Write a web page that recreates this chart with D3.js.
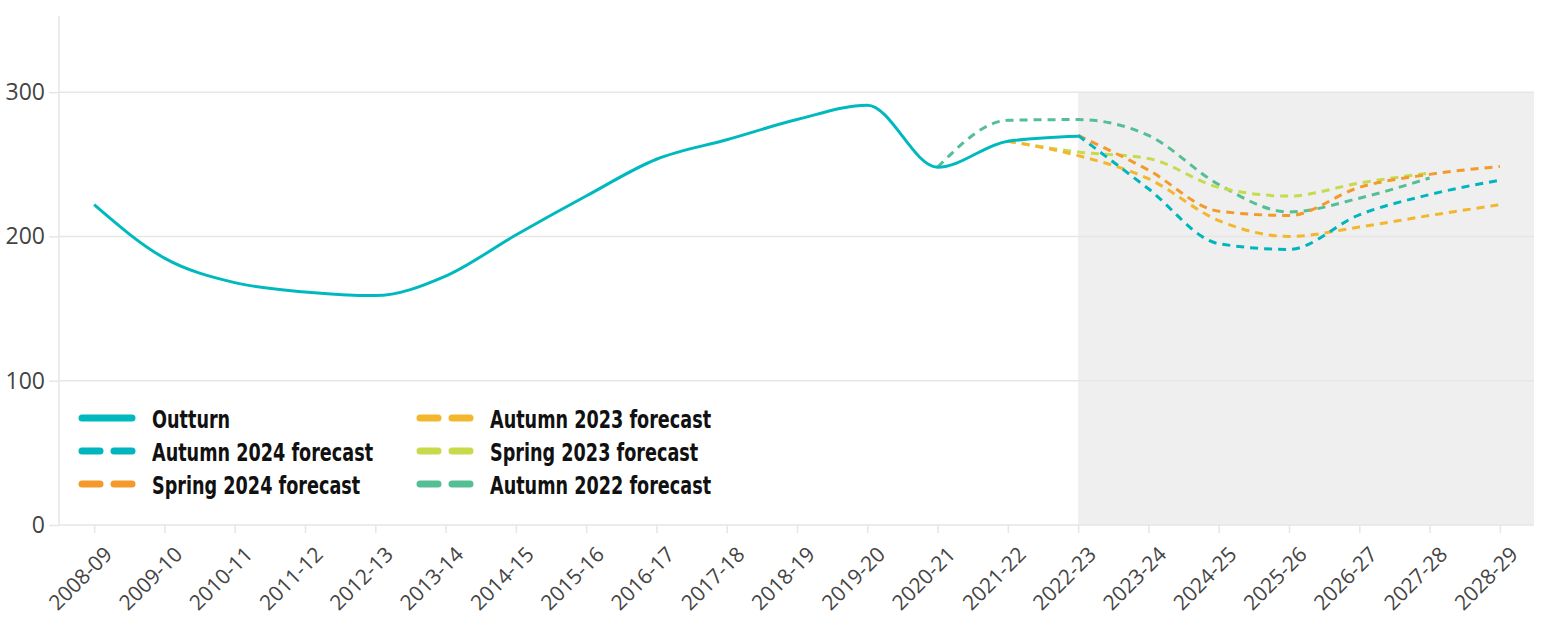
<!DOCTYPE html>
<html>
<head>
<meta charset="utf-8">
<script src="https://cdn.jsdelivr.net/npm/d3@7"></script>
<style>
body { margin: 0; background: #fff; }
.tick text { font-family: "Open Sans", "DejaVu Sans", sans-serif; fill: #444; }
.legend text { font-family: "DejaVu Sans", sans-serif; font-weight: bold; font-size: 24.5px; fill: #111; }
</style>
</head>
<body>
<div id="chart"></div>
<script>
var years = ["2008-09","2009-10","2010-11","2011-12","2012-13","2013-14","2014-15","2015-16","2016-17","2017-18","2018-19","2019-20","2020-21","2021-22","2022-23","2023-24","2024-25","2025-26","2026-27","2027-28","2028-29"];
var yTicks = [0, 100, 200, 300];

var outturnYears = years.slice(0, 15);
var outturn = [222, 185, 168, 161.5, 159, 172.5, 201, 228, 253.5, 267, 281, 291, 248, 266, 269.5];

var aut22Years = years.slice(12, 20);
var aut22 = [248, 280.5, 281, 270, 236, 217, 226.5, 240.5];

var spr23Years = years.slice(13, 20);
var spr23 = [266, 258.5, 254, 234, 228, 237, 244];

var aut23Years = years.slice(13, 21);
var aut23 = [266, 256, 240, 211, 200, 206.5, 214.5, 222];

var spr24Years = years.slice(14, 21);
var spr24 = [270, 246, 217.5, 214.5, 234, 243, 248.5];

var aut24Years = years.slice(14, 21);
var aut24 = [270, 233, 195, 191, 215, 229, 239];

var seriesNames = ["Outturn", "Autumn 2024 forecast", "Spring 2024 forecast", "Autumn 2023 forecast", "Spring 2023 forecast", "Autumn 2022 forecast"];
var seriesColors = ["#00b9bf", "#00b5be", "#f39a2b", "#f2b72c", "#c7da4c", "#54bf94"];

var W = 1544, H = 622;
var mLeft = 59, mRight = 1534, mTop = 20, mBottom = 525;

var svg = d3.select("#chart").append("svg").attr("width", W).attr("height", H);

var x = d3.scalePoint().domain(years).range([mLeft, mRight + 1]).padding(0.5);
var y = d3.scaleLinear().domain([0, 350]).range([mBottom, mTop]);

// forecast shading
svg.append("rect")
  .attr("x", x("2022-23")).attr("y", y(300))
  .attr("width", mRight - x("2022-23")).attr("height", y(0) - y(300))
  .style("fill", "#efefef");

// gridlines
svg.append("g").selectAll("line").data(yTicks.slice(1)).join("line")
  .attr("x1", mLeft).attr("x2", mRight)
  .attr("y1", function(d) { return y(d); }).attr("y2", function(d) { return y(d); })
  .style("stroke", "#e6e6e6").style("stroke-width", 1.5);

// y axis
var yAxis = svg.append("g").attr("transform", "translate(" + mLeft + ",0)")
  .call(d3.axisLeft(y).tickValues(yTicks).tickSize(10).tickPadding(4));
yAxis.select(".domain").attr("d", "M0," + (mTop - 4) + "V" + mBottom).style("stroke", "#e6e6e6").style("stroke-width", 1.5);
yAxis.selectAll(".tick line").style("stroke", "#e6e6e6").style("stroke-width", 1.5);
yAxis.selectAll(".tick text").style("font-size", "23px");

// x axis
var xAxis = svg.append("g").attr("transform", "translate(0," + mBottom + ")")
  .call(d3.axisBottom(x).tickSize(8));
xAxis.select(".domain").attr("d", "M" + mLeft + ",0H" + mRight).style("stroke", "#e6e6e6").style("stroke-width", 1.5);
xAxis.selectAll(".tick line").style("stroke", "#e6e6e6").style("stroke-width", 1.5);
xAxis.selectAll(".tick text")
  .style("font-size", "21px")
  .attr("text-anchor", "end")
  .attr("dx", 0).attr("dy", 0)
  .attr("transform", "translate(11,23) rotate(-45)");

var line = d3.line()
  .x(function(d) { return x(d[0]); })
  .y(function(d) { return y(d[1]); })
  .curve(d3.curveMonotoneX);

function drawSeries(yrs, vals, color, dashed) {
  svg.append("path")
    .datum(d3.zip(yrs, vals))
    .attr("d", line)
    .style("fill", "none")
    .style("stroke", color)
    .style("stroke-width", 3)
    .style("stroke-dasharray", dashed ? "8,6" : null);
}

drawSeries(aut22Years, aut22, seriesColors[5], true);
drawSeries(spr23Years, spr23, seriesColors[4], true);
drawSeries(aut23Years, aut23, seriesColors[3], true);
drawSeries(spr24Years, spr24, seriesColors[2], true);
drawSeries(aut24Years, aut24, seriesColors[1], true);
drawSeries(outturnYears, outturn, seriesColors[0], false);

// legend
var legend = svg.append("g").attr("class", "legend");
seriesNames.forEach(function(name, i) {
  var col = Math.floor(i / 3), row = i % 3;
  var lx = 80 + col * 338, ly = 418 + row * 33;
  var g = legend.append("g").attr("transform", "translate(" + lx + "," + ly + ")");
  if (i === 0) {
    g.append("line").attr("x1", 2).attr("x2", 52).attr("y1", 0).attr("y2", 0);
  } else {
    g.append("line").attr("x1", 2).attr("x2", 20).attr("y1", 0).attr("y2", 0);
    g.append("line").attr("x1", 34).attr("x2", 52).attr("y1", 0).attr("y2", 0);
  }
  g.selectAll("line").style("stroke", seriesColors[i]).style("stroke-width", 7).style("stroke-linecap", "round");
  g.append("text").attr("transform", "translate(72,10) scale(0.72,1)").text(name);
});
</script>
</body>
</html>
